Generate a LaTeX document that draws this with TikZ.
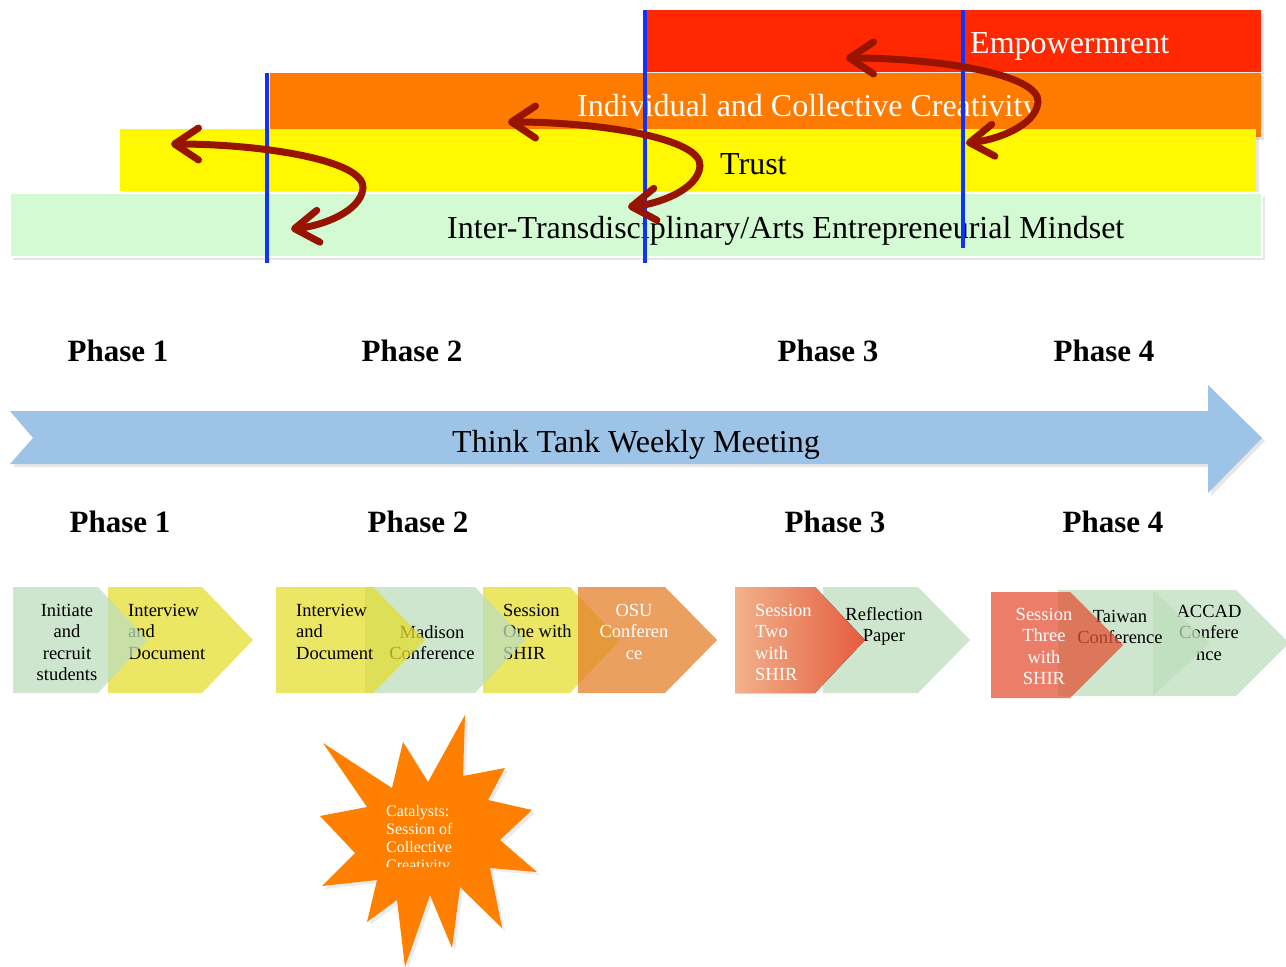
\documentclass[tikz,border=0pt]{standalone}
\usepackage{fontspec}
\setmainfont{Liberation Serif}
\usepackage{tikz}
\usetikzlibrary{arrows.meta,shadows}

\definecolor{empred}{RGB}{255,40,0}
\definecolor{creaorange}{RGB}{255,123,0}
\definecolor{trustyellow}{RGB}{255,248,0}
\definecolor{mindgreen}{RGB}{212,250,212}
\definecolor{phaseblue}{RGB}{15,50,255}
\definecolor{cyclered}{RGB}{150,20,0}
\definecolor{meetblue}{RGB}{157,195,230}
\definecolor{chevgreen}{RGB}{188,222,188}
\definecolor{chevyellow}{RGB}{228,221,48}
\definecolor{chevorange}{RGB}{228,128,42}
\definecolor{chevsalmon}{RGB}{228,82,55}
\definecolor{chevpeach}{RGB}{242,178,138}
\definecolor{chevred}{RGB}{228,92,62}
\definecolor{starorange}{RGB}{255,127,0}

\tikzset{
  bar/.style={drop shadow={shadow xshift=3pt,shadow yshift=-3pt,opacity=0.2}},
  bartext/.style={font=\fontsize{32}{36}\selectfont,inner sep=0pt},
  phaseline/.style={phaseblue,line width=4.5pt},
  cyclearrow/.style={cyclered,line width=7pt,line cap=round,
    >={Straight Barb[length=24pt,width=32pt,round]},<->},
  phaselabel/.style={font=\bfseries\fontsize{31}{34}\selectfont,inner sep=0pt,anchor=base},
  chev/.style={fill opacity=0.75},
  chevtext/.style={font=\fontsize{18.5}{21.5}\selectfont,inner sep=0pt},
  startext/.style={font=\fontsize{16}{18}\selectfont,inner sep=0pt,white,align=left}
}
% left, top, end of flat top, tip, fill
\newcommand{\chevshape}[5]{%
  \fill[#5] (#1,#2) -- (#3,#2) -- (#4,#2+53) -- (#3,#2+106) -- (#1,#2+106) -- cycle;}

\begin{document}
\begin{tikzpicture}[x=1pt,y=-1pt]
  \useasboundingbox (0,0) rectangle (1286,967);

  % layers
  \fill[empred,bar] (645,10) rectangle (1261,72);
  \fill[creaorange,bar] (270,73) rectangle (1261,137);
  \fill[trustyellow,bar] (120,129) rectangle (1256,191);
  \filldraw[fill=mindgreen,draw=white,line width=2pt,bar] (10,193) rectangle (1262,257);
  \node[bartext,white,anchor=base west] (empower) at (970,53) {Empowermrent};
  \node[bartext,white,anchor=base west] (creativity) at (577,116) {Individual and Collective Creativity};
  \node[bartext,anchor=base west] (trust) at (720,174) {Trust};
  \node[bartext,anchor=base west] (mindset) at (447,238) {Inter-Transdisciplinary/Arts Entrepreneurial Mindset};

  \foreach \x/\t/\b in {267/73/263,645/10/263,963/10/248}
    \draw[phaseline] (\x,\t) -- (\x,\b);

  \foreach \x/\y [count=\i] in {171/144,508/122,846/58}{
    \coordinate (cycA\i) at (\x,\y);
    \coordinate (cycM\i) at (\x+192,\y+44);
    \coordinate (cycB\i) at (\x+120,\y+85);
    \draw[cyclearrow] (cycA\i) .. controls +(90,0) and +(2,-28) .. (cycM\i)
      .. controls +(-2,24) and +(30,-3) .. (cycB\i);
  }

  % timeline
  \foreach \x/\n in {118/1,412/2,828/3,1104/4}
    \node[phaselabel] (phasetop\n) at (\x,361) {Phase \n};
  \fill[meetblue,bar] (10,411) -- (1208,411) -- (1208,385) -- (1262,438)
    -- (1208,493) -- (1208,464) -- (10,464) -- (33,438) -- cycle;
  \node[bartext,anchor=base] (meeting) at (636,452) {Think Tank Weekly Meeting};
  \foreach \x/\n in {120/1,418/2,835/3,1113/4}
    \node[phaselabel] (phasebot\n) at (\x,532) {Phase \n};

  % phase 1
  \chevshape{108}{587}{202}{253}{chev,chevyellow}
  \node[chevtext,align=left,anchor=north west] (interview1) at (128,604) {Interview\\and\\Document};
  \chevshape{13}{587}{98}{147}{chev,chevgreen}
  \node[chevtext,align=center,anchor=north] (initiate) at (67,604) {Initiate\\and\\recruit\\students};

  % phase 2
  \chevshape{483}{587}{570}{620}{chev,chevyellow}
  \node[chevtext,align=left,anchor=north west] (sessionone) at (503,604) {Session\\One with\\SHIR};
  \chevshape{365}{587}{475}{525}{chev,chevgreen}
  \node[chevtext,align=center,anchor=north] (madison) at (432,625) {Madison\\Conference};
  \chevshape{276}{587}{373}{425}{chev,chevyellow}
  \node[chevtext,align=left,anchor=north west] (interview2) at (296,604) {Interview\\and\\Document};
  \chevshape{578}{587}{665}{717}{chev,chevorange}
  \node[chevtext,white,align=center,anchor=north] (osu) at (634,604) {OSU\\Conferen\\ce};

  % phase 3
  \chevshape{823}{587}{918}{970}{chev,chevgreen}
  \node[chevtext,align=center,anchor=north] (reflection) at (884,607) {Reflection\\Paper};
  \chevshape{735}{587}{815}{865}{left color=chevpeach,right color=chevred}
  \node[chevtext,white,align=left,anchor=north west] (sessiontwo) at (755,604) {Session\\Two\\with\\SHIR};

  % phase 4
  \chevshape{1153}{590}{1236}{1289}{chev,chevgreen}
  \node[chevtext,align=center,anchor=north] (accad) at (1209,605) {ACCAD\\Confere\\nce};
  \chevshape{1058}{590}{1153}{1210}{chev,chevgreen}
  \node[chevtext,align=center,anchor=north] (taiwan) at (1120,610) {Taiwan\\Conference};
  \chevshape{991}{592}{1070}{1123}{chev,chevsalmon}
  \node[chevtext,white,align=center,anchor=north] (sessionthree) at (1044,608) {Session\\Three\\with\\SHIR};

  % catalyst
  \fill[starorange,drop shadow={shadow xshift=3pt,shadow yshift=-3pt,opacity=0.15}]
    (465,715) -- (463,776) -- (505,768) -- (488,800) -- (532,810) -- (500,840)
    -- (537,872) -- (490,868) -- (502,928) -- (460,887) -- (452,948) -- (430,895)
    -- (405,967) -- (397,900) -- (367,922) -- (377,880) -- (322,886) -- (355,853)
    -- (320,816) -- (367,807) -- (323,743) -- (392,788) -- (403,742) -- (428,782) -- cycle;
  \begin{scope}
    \clip (380,790) rectangle (480,866);
    \node[startext,anchor=north west] (catalyst) at (386,805) {Catalysts:\\Session of\\Collective\\Creativity};
  \end{scope}
\end{tikzpicture}
\end{document}
